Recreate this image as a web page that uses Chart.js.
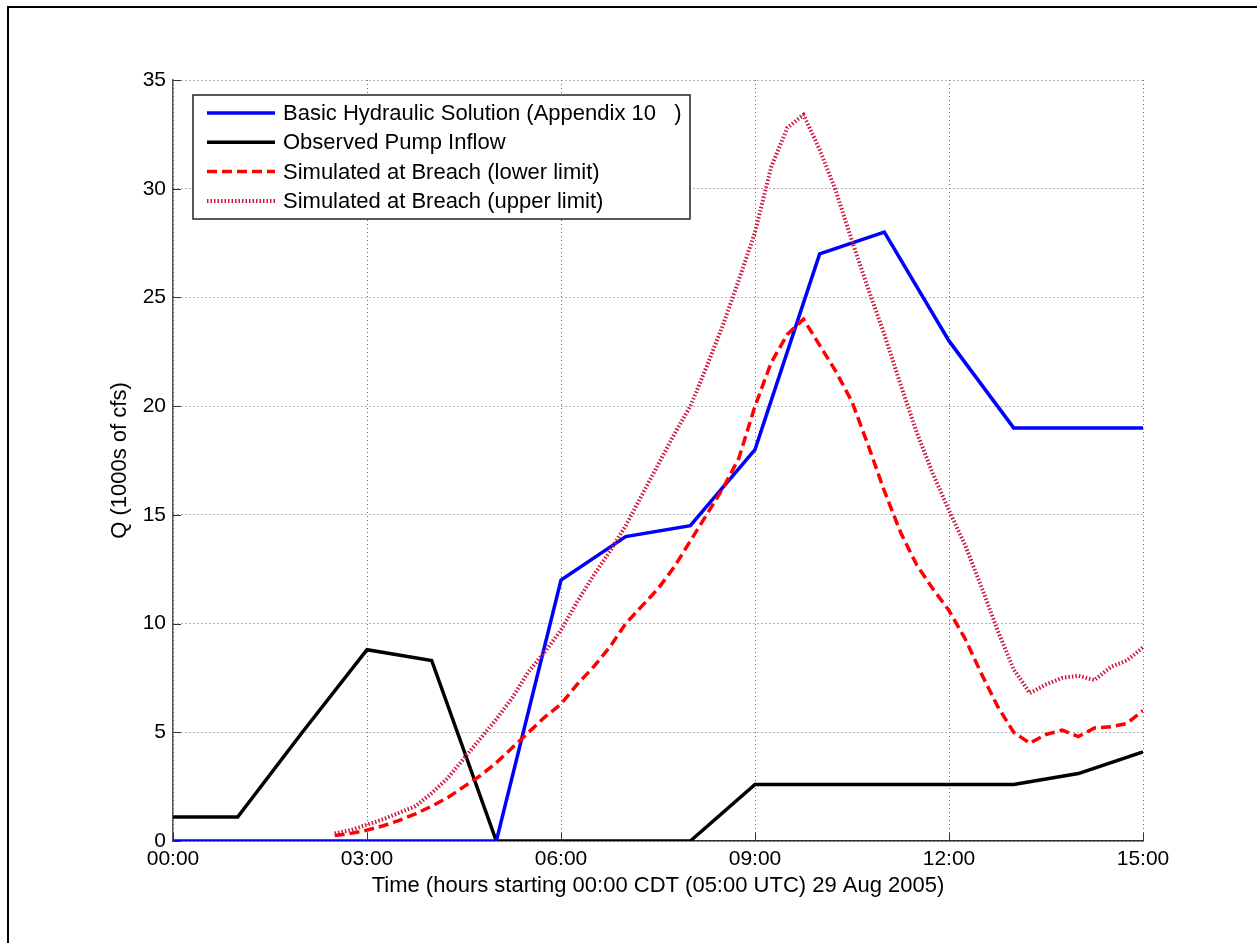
<!DOCTYPE html>
<html>
<head>
<meta charset="utf-8">
<script src="https://cdn.jsdelivr.net/npm/chart.js@4.4.1/dist/chart.umd.min.js"></script>
<style>
  html, body { margin: 0; padding: 0; background: #fff; }
  canvas { display: block; }
</style>
</head>
<body>
<canvas id="flowChart" width="1257" height="943"></canvas>
<script>
// hourly series (hours after 00:00 CDT)
const hourTimes = [0, 1, 2, 3, 4, 5, 6, 7, 8, 9, 10, 11, 12, 13, 14, 15];
const basicHydraulic = [0, 0, 0, 0, 0, 0, 12, 14, 14.5, 18, 27, 28, 23, 19, 19, 19];
const observedPump = [1.1, 1.1, 5, 8.8, 8.3, 0, 0, 0, 0, 2.6, 2.6, 2.6, 2.6, 2.6, 3.1, 4.1];

// simulated breach flow, 15 minute steps
const breachTimes = [2.5, 2.75, 3, 3.25, 3.5, 3.75, 4, 4.25, 4.5, 4.75, 5, 5.25, 5.5, 5.75,
  6, 6.25, 6.5, 6.75, 7, 7.25, 7.5, 7.75, 8, 8.25, 8.5, 8.75, 9, 9.25, 9.5, 9.75,
  10, 10.25, 10.5, 10.75, 11, 11.25, 11.5, 11.75, 12, 12.25, 12.5, 12.75, 13, 13.25,
  13.5, 13.75, 14, 14.25, 14.5, 14.75, 15];
const breachLower = [0.25, 0.35, 0.5, 0.7, 0.95, 1.25, 1.6, 2.0, 2.5, 3.0, 3.6, 4.3, 5.0, 5.7,
  6.3, 7.2, 8.0, 8.9, 10.0, 10.8, 11.6, 12.6, 13.8, 15.0, 16.2, 17.6, 20.0, 22.0, 23.3, 24.0,
  22.8, 21.6, 20.2, 18.2, 16.1, 14.2, 12.7, 11.6, 10.6, 9.3, 7.7, 6.2, 5.0, 4.5,
  4.9, 5.1, 4.8, 5.2, 5.25, 5.4, 6.0];
const breachUpper = [0.35, 0.5, 0.75, 1.0, 1.3, 1.6, 2.2, 2.9, 3.8, 4.7, 5.6, 6.6, 7.8, 8.7,
  9.7, 11.0, 12.2, 13.3, 14.5, 15.9, 17.3, 18.7, 20.0, 21.8, 23.7, 25.8, 28.0, 31.0, 32.8, 33.4,
  31.8, 29.9, 27.6, 25.4, 23.3, 21.0, 18.8, 16.9, 15.2, 13.6, 11.7, 9.7, 7.9, 6.8,
  7.2, 7.5, 7.6, 7.4, 8.0, 8.3, 8.9];

const seriesLabels = [
  "Basic Hydraulic Solution (Appendix 10   )",
  "Observed Pump Inflow",
  "Simulated at Breach (lower limit)",
  "Simulated at Breach (upper limit)"
];
const timeTickHours = [0, 3, 6, 9, 12, 15];
const timeTickLabels = ["00:00", "03:00", "06:00", "09:00", "12:00", "15:00"];
const qTicks = [0, 5, 10, 15, 20, 25, 30, 35];

const FONT = 'Arial, "Liberation Sans", sans-serif';

const pairUp = (xs, ys) => xs.map((x, i) => ({ x: x, y: ys[i] }));

// white page + the thin black frame round the figure
const framePlugin = {
  id: "frame",
  beforeDraw(chart) {
    const ctx = chart.ctx;
    ctx.save();
    ctx.fillStyle = "#fff";
    ctx.fillRect(0, 0, chart.width, chart.height);
    ctx.restore();
  },
  afterDraw(chart) {
    const ctx = chart.ctx;
    ctx.save();
    ctx.strokeStyle = "#000";
    ctx.lineWidth = 2;
    ctx.beginPath();
    ctx.moveTo(8, chart.height);
    ctx.lineTo(8, 7);
    ctx.lineTo(chart.width, 7);
    ctx.stroke();
    ctx.restore();
  }
};

// matlab style ticks pointing into the plot
const innerTicksPlugin = {
  id: "innerTicks",
  afterDatasetsDraw(chart) {
    const ctx = chart.ctx, area = chart.chartArea;
    const xs = chart.scales.x, ys = chart.scales.y;
    ctx.save();
    ctx.strokeStyle = "#333";
    ctx.lineWidth = 1;
    ctx.beginPath();
    qTicks.forEach(v => {
      const py = Math.round(ys.getPixelForValue(v)) + 0.5;
      ctx.moveTo(area.left, py);
      ctx.lineTo(area.left + 8, py);
    });
    timeTickHours.forEach(v => {
      const px = Math.round(xs.getPixelForValue(v)) + 0.5;
      ctx.moveTo(px, area.bottom);
      ctx.lineTo(px, area.bottom - 8);
    });
    ctx.stroke();
    ctx.restore();
  }
};

// legend box inside the plot, upper left
const boxLegendPlugin = {
  id: "boxLegend",
  afterDraw(chart) {
    const ctx = chart.ctx;
    const left = 193, top = 95, right = 690, bottom = 219;
    ctx.save();
    ctx.fillStyle = "#fff";
    ctx.fillRect(left, top, right - left, bottom - top);
    ctx.strokeStyle = "#222";
    ctx.lineWidth = 1.5;
    ctx.strokeRect(left, top, right - left, bottom - top);
    ctx.font = "22px " + FONT;
    ctx.textBaseline = "middle";
    ctx.fillStyle = "#000";
    chart.data.datasets.forEach((ds, i) => {
      const y = 113 + i * 29.3;
      ctx.save();
      ctx.strokeStyle = ds.borderColor;
      ctx.lineWidth = ds.borderWidth;
      ctx.setLineDash(ds.borderDash || []);
      ctx.beginPath();
      ctx.moveTo(207, y);
      ctx.lineTo(275, y);
      ctx.stroke();
      ctx.restore();
      ctx.fillText(ds.label, 283, y + 1);
    });
    ctx.restore();
  }
};

new Chart(document.getElementById("flowChart"), {
  type: "line",
  data: {
    datasets: [
      {
        label: seriesLabels[0],
        data: pairUp(hourTimes, basicHydraulic),
        borderColor: "#0000ff",
        borderWidth: 3.5,
        order: 2
      },
      {
        label: seriesLabels[1],
        data: pairUp(hourTimes, observedPump),
        borderColor: "#000000",
        borderWidth: 3.5,
        order: 3
      },
      {
        label: seriesLabels[2],
        data: pairUp(breachTimes, breachLower),
        borderColor: "#ff0000",
        borderWidth: 3.5,
        borderDash: [10, 5],
        order: 1
      },
      {
        label: seriesLabels[3],
        data: pairUp(breachTimes, breachUpper),
        borderColor: "rgb(205,22,60)",
        borderWidth: 4,
        borderDash: [1.5, 2],
        order: 0
      }
    ]
  },
  options: {
    responsive: false,
    animation: false,
    elements: { point: { radius: 0 }, line: { tension: 0 } },
    layout: { padding: { left: 0, right: 114, top: 80, bottom: 0 } },
    plugins: {
      legend: { display: false },
      tooltip: { enabled: false }
    },
    scales: {
      x: {
        type: "linear",
        min: 0,
        max: 15,
        afterBuildTicks: s => { s.ticks = timeTickHours.map(v => ({ value: v })); },
        afterFit: s => { s.height = 102; },
        ticks: {
          color: "#000",
          font: { family: FONT, size: 21 },
          padding: 6,
          maxRotation: 0,
          callback: v => timeTickLabels[timeTickHours.indexOf(v)] ?? ""
        },
        grid: { color: "#666", lineWidth: 1, drawTicks: false },
        border: { display: true, color: "#333", width: 1.5, dash: [1, 3] },
        title: {
          display: true,
          text: "Time (hours starting 00:00 CDT (05:00 UTC) 29 Aug 2005)",
          color: "#000",
          font: { family: FONT, size: 22 },
          padding: { top: 0, bottom: 44 }
        }
      },
      y: {
        type: "linear",
        min: 0,
        max: 35,
        afterBuildTicks: s => { s.ticks = qTicks.map(v => ({ value: v })); },
        afterFit: s => { s.width = 173; },
        ticks: {
          color: "#000",
          font: { family: FONT, size: 21 },
          padding: 7
        },
        grid: { color: "#666", lineWidth: 1, drawTicks: false },
        border: { display: true, color: "#555", width: 1.5, dash: [1, 3] },
        title: {
          display: true,
          text: "Q (1000s of cfs)",
          color: "#000",
          font: { family: FONT, size: 22 },
          padding: { top: 107, bottom: 0 }
        }
      }
    }
  },
  plugins: [framePlugin, innerTicksPlugin, boxLegendPlugin]
});
</script>
</body>
</html>
